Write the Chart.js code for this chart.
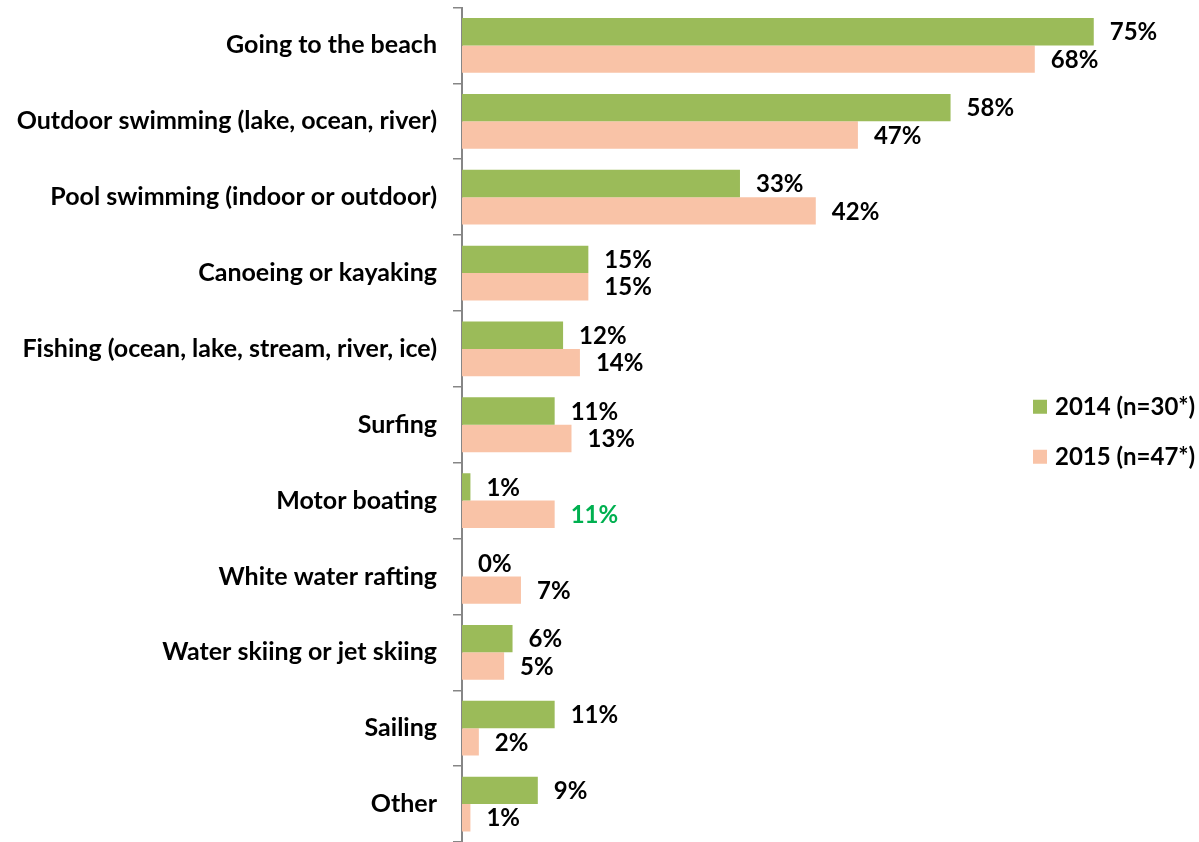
<!DOCTYPE html>
<html>
<head>
<meta charset="utf-8">
<script src="https://cdn.jsdelivr.net/npm/chart.js@4"></script>
<style>
  html, body { margin: 0; padding: 0; background: #ffffff; }
  #wrap { width: 1199px; height: 842px; position: relative; }
</style>
</head>
<body>
<div id="wrap"><canvas id="chart"></canvas></div>
<script>
// Water activities, share of respondents (%)
const categories = [
  'Going to the beach',
  'Outdoor swimming (lake, ocean, river)',
  'Pool swimming (indoor or outdoor)',
  'Canoeing or kayaking',
  'Fishing (ocean, lake, stream, river, ice)',
  'Surfing',
  'Motor boating',
  'White water rafting',
  'Water skiing or jet skiing',
  'Sailing',
  'Other'
];
const seriesNames = ['2014 (n=30*)', '2015 (n=47*)'];
const values2014 = [75, 58, 33, 15, 12, 11, 1, 0, 6, 11, 9];
const values2015 = [68, 47, 42, 15, 14, 13, 11, 7, 5, 2, 1];
// label colours for the 2015 series (one value highlighted)
const labelColors2015 = ['#000', '#000', '#000', '#000', '#000', '#000', '#00B050', '#000', '#000', '#000', '#000'];

const GREEN = '#9BBB59';
const PEACH = '#F9C3A7';
const FONT = 'Lato, "Open Sans", sans-serif';

// value labels at the end of every bar
const valueLabels = {
  id: 'valueLabels',
  afterDatasetsDraw(chart) {
    const ctx = chart.ctx;
    ctx.save();
    ctx.font = 'bold 24px ' + FONT;
    ctx.textAlign = 'left';
    ctx.textBaseline = 'middle';
    chart.data.datasets.forEach((ds, di) => {
      const meta = chart.getDatasetMeta(di);
      meta.data.forEach((bar, i) => {
        ctx.fillStyle = ds.labelColors ? ds.labelColors[i] : '#000';
        ctx.fillText(ds.data[i] + '%', bar.x + 16, bar.y + 1);
      });
    });
    ctx.restore();
  }
};

// legend block on the right side of the plot
const sideLegend = {
  id: 'sideLegend',
  afterDraw(chart) {
    const ctx = chart.ctx;
    const x = chart.width - 166;
    const y0 = chart.chartArea.top + (chart.chartArea.bottom - chart.chartArea.top) / 2 - 18;
    ctx.save();
    ctx.font = 'bold 24px ' + FONT;
    ctx.textAlign = 'left';
    ctx.textBaseline = 'middle';
    chart.data.datasets.forEach((ds, i) => {
      const y = y0 + i * 50;
      ctx.fillStyle = ds.backgroundColor;
      ctx.fillRect(x, y - 7, 14, 14);
      ctx.fillStyle = '#000';
      ctx.fillText(ds.label, x + 22, y + 1);
    });
    ctx.restore();
  }
};

new Chart(document.getElementById('chart'), {
  type: 'bar',
  data: {
    labels: categories,
    datasets: [
      { label: seriesNames[0], data: values2014, backgroundColor: GREEN,
        categoryPercentage: 0.722, barPercentage: 1.0 },
      { label: seriesNames[1], data: values2015, backgroundColor: PEACH,
        labelColors: labelColors2015, categoryPercentage: 0.722, barPercentage: 1.0 }
    ]
  },
  options: {
    indexAxis: 'y',
    responsive: true,
    maintainAspectRatio: false,
    animation: false,
    layout: { padding: { top: 7.5, bottom: -3.5, left: 0, right: 21 } },
    plugins: {
      legend: { display: false },
      tooltip: { enabled: false }
    },
    scales: {
      x: {
        display: false,
        min: 0,
        max: 85
      },
      y: {
        afterFit(scale) {
          scale.width = 462;
          scale.paddingTop = 0;
          scale.paddingBottom = 0;
        },
        grid: {
          display: true,
          drawOnChartArea: false,
          drawTicks: true,
          tickLength: 9,
          color: '#868686',
          lineWidth: 1.5,
          offset: true
        },
        border: { display: true, color: '#868686', width: 2 },
        ticks: {
          color: '#000',
          padding: 16,
          font: { family: FONT, size: 25, weight: 'bold' }
        }
      }
    }
  },
  plugins: [valueLabels, sideLegend]
});
</script>
</body>
</html>
